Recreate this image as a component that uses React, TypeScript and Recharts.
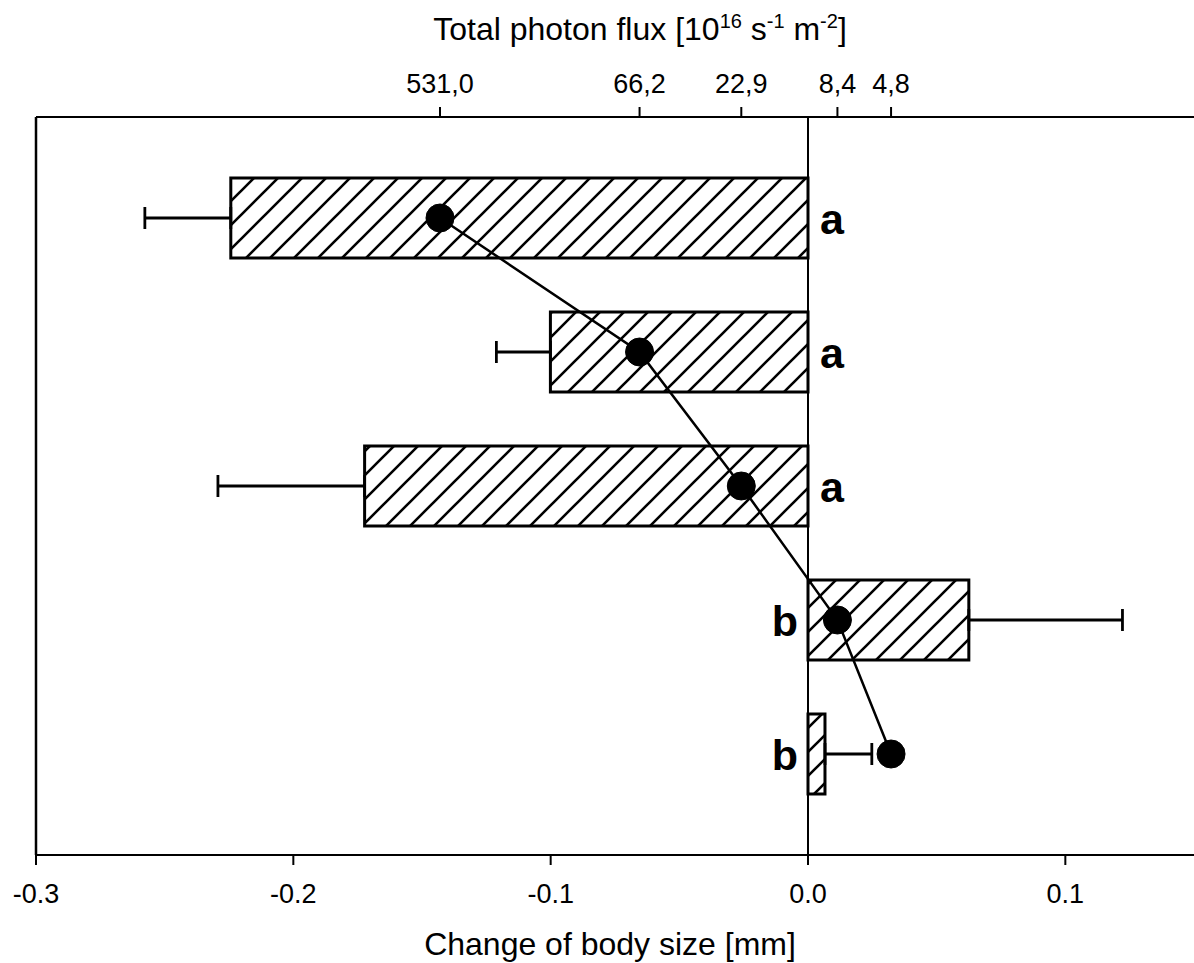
import { Bar, ComposedChart, ErrorBar, Label, LabelList, Line, ReferenceLine, XAxis, YAxis } from "recharts"

// light levels (top axis, total photon flux), one row per treatment
const fluxLevels = ["531,0", "66,2", "22,9", "8,4", "4,8"]
const flux = [531.0, 66.2, 22.9, 8.4, 4.8]
// change of body size [mm] and its one-sided error
const sizeChange = [-0.2243, -0.1001, -0.1723, 0.0625, 0.0066]
const sizeErr = [0.0334, 0.021, 0.057, 0.0597, 0.0182]
const letters = ["a", "a", "a", "b", "b"]

const sizeTicks = [-0.3, -0.2, -0.1, 0, 0.1]
const fluxTicks = [531.0, 66.2, 22.9, 8.4, 4.8]

const data = fluxLevels.map((name, i) => ({
  name,
  flux: flux[i],
  size: sizeChange[i],
  // error bar only points away from zero
  err: sizeChange[i] < 0 ? [sizeErr[i], 0] : [0, sizeErr[i]],
  letter: letters[i],
}))

const font = "'Liberation Sans', Arial, sans-serif"

function LetterLabel(props: any) {
  const vb = props.viewBox ?? props
  const { x, y, width, height } = vb
  const v = sizeChange[props.index]
  const zero = v < 0 ? Math.max(x, x + width) : Math.min(x, x + width)
  return (
    <text
      x={v < 0 ? zero + 12 : zero - 10}
      y={y + height / 2 + 16}
      textAnchor={v < 0 ? "start" : "end"}
      fontSize={43}
      fontWeight="bold"
      fontFamily={font}
      fill="#000"
    >
      {props.value}
    </text>
  )
}

function TopTitle(props: any) {
  const vb = props.viewBox
  const cx = vb.x + vb.width / 2 + 25
  return (
    <text x={cx} y={40} textAnchor="middle" fontSize={32} fontFamily={font} fill="#000">
      Total photon flux [10
      <tspan dy={-12} fontSize={20}>16</tspan>
      <tspan dy={12}> s</tspan>
      <tspan dy={-12} fontSize={20}>-1</tspan>
      <tspan dy={12}> m</tspan>
      <tspan dy={-12} fontSize={20}>-2</tspan>
      <tspan dy={12}>]</tspan>
    </text>
  )
}

function BottomTitle(props: any) {
  const vb = props.viewBox
  return (
    <text x={vb.x + vb.width / 2 - 5} y={955} textAnchor="middle" fontSize={32} fontFamily={font} fill="#000">
      Change of body size [mm]
    </text>
  )
}

export default function App() {
  return (
    <div style={{ position: "absolute", left: 0, top: 0, background: "#fff" }}>
      <ComposedChart
        width={1194}
        height={963}
        data={data}
        layout="vertical"
        margin={{ top: 7, right: 0, bottom: 8, left: 36 }}
        barSize={80}
      >
        <defs>
          <pattern id="hatch" patternUnits="userSpaceOnUse" width={24} height={24}>
            <path d="M-6,6 L6,-6 M0,24 L24,0 M18,30 L30,18" stroke="#000" strokeWidth={2.6} />
          </pattern>
        </defs>
        <XAxis
          xAxisId="size"
          type="number"
          orientation="bottom"
          domain={[-0.3, 0.15]}
          allowDataOverflow
          ticks={sizeTicks}
          tickFormatter={(v: number) => v.toFixed(1)}
          height={100}
          tickSize={10}
          tickMargin={19}
          stroke="#000"
          strokeWidth={2}
          tick={{ fill: "#000", fontSize: 27, fontFamily: font }}
        >
          <Label content={BottomTitle} />
        </XAxis>
        <XAxis
          xAxisId="flux"
          type="number"
          orientation="top"
          scale="log"
          domain={[0.2035, 35950]}
          allowDataOverflow
          reversed
          ticks={fluxTicks}
          tickFormatter={(v: number) => v.toFixed(1).replace(".", ",")}
          height={110}
          tickSize={10}
          tickMargin={14}
          stroke="#000"
          strokeWidth={2}
          tick={{ fill: "#000", fontSize: 27, fontFamily: font }}
        >
          <Label content={TopTitle} />
        </XAxis>
        <YAxis
          type="category"
          dataKey="name"
          hide
          padding={{ top: 34, bottom: 34 }}
        />
        <ReferenceLine xAxisId="size" x={-0.3} stroke="#000" strokeWidth={2.5} />
        <ReferenceLine xAxisId="size" x={0} stroke="#000" strokeWidth={2} />
        <Bar
          xAxisId="size"
          dataKey="size"
          fill="url(#hatch)"
          stroke="#000"
          strokeWidth={3}
          isAnimationActive={false}
        >
          <ErrorBar dataKey="err" direction="x" width={11} stroke="#000" strokeWidth={2.8} />
          <LabelList dataKey="letter" content={LetterLabel} />
        </Bar>
        <Line
          xAxisId="flux"
          dataKey="flux"
          stroke="#000"
          strokeWidth={2.5}
          dot={{ r: 14, fill: "#000", stroke: "#000", strokeWidth: 1 }}
          activeDot={false}
          isAnimationActive={false}
        />
      </ComposedChart>
    </div>
  )
}
